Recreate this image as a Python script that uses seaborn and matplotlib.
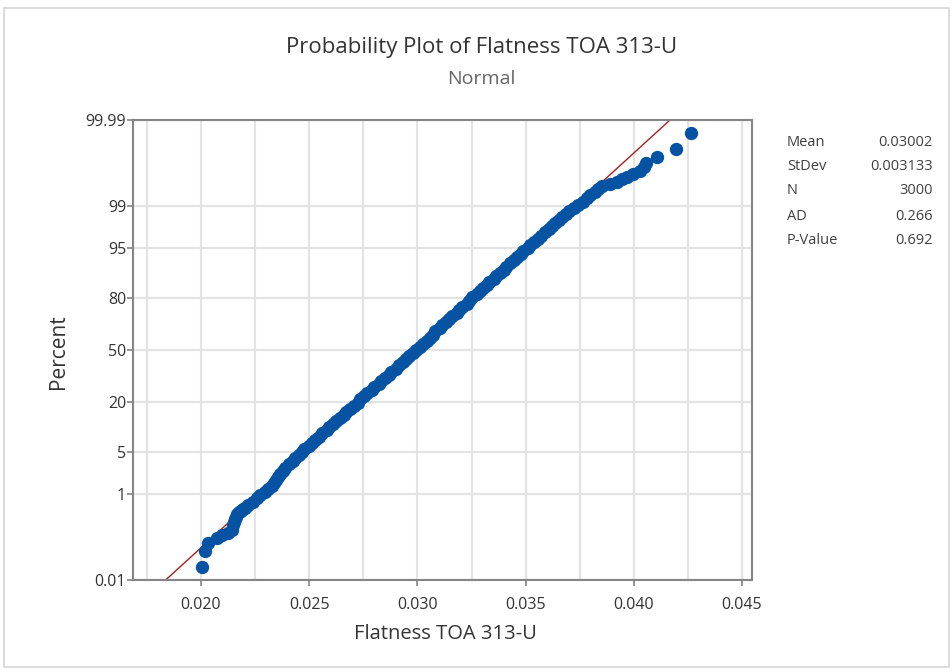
import math
import numpy as np
import pandas as pd
import matplotlib
matplotlib.use("Agg")
import matplotlib.pyplot as plt
import matplotlib.ticker as mticker
from matplotlib.patches import Rectangle
import seaborn as sns

# summary statistics shown in the side box
mean_val = 0.03002
stdev_val = 0.003133
n_obs = 3000
ad_val = 0.266
p_val = 0.692

# plotted points (percent, flatness)
percent = [0.023, 0.057, 0.090, 0.12, 0.137, 0.152, 0.178, 0.23, 0.267, 0.31,
           0.342, 0.394, 0.433, 0.454, 0.50,
           0.54, 0.62, 0.71, 0.82, 0.94, 1.07, 1.22, 1.39, 1.58, 1.79,
           2.02, 2.28, 2.56, 2.87, 3.22, 3.59, 4.01, 4.46, 4.95, 5.48,
           6.06, 6.68, 7.35, 8.08, 8.85, 9.68, 10.56, 11.51, 12.51, 13.57,
           14.69, 15.87, 17.11, 18.41, 19.77, 21.19, 22.66, 24.20, 25.78, 27.43,
           29.12, 30.85, 32.64, 34.46, 36.32, 38.21, 40.13, 42.07, 44.04, 46.02,
           48.01, 50.00, 51.99, 53.98, 55.96, 57.93, 59.87, 61.79, 63.68, 65.54,
           67.36, 69.15, 70.88, 72.57, 74.22, 75.80, 77.34, 78.81, 80.23, 81.59,
           82.89, 84.13, 85.31, 86.43, 87.49, 88.49, 89.44, 90.32, 91.15, 91.92,
           92.65, 93.32, 93.94, 94.52, 95.05, 95.54, 95.99, 96.41, 96.78, 97.13,
           97.44, 97.72, 97.98, 98.21, 98.42, 98.61, 98.78, 98.93, 99.06, 99.18,
           99.29, 99.38, 99.46, 99.53, 99.60,
           99.643, 99.677, 99.71, 99.743, 99.777, 99.81, 99.843, 99.877, 99.91,
           99.943, 99.977]
flatness = [0.02005, 0.02018, 0.02032, 0.02074, 0.02097, 0.02125, 0.02143, 0.02148, 0.02152, 0.02157,
            0.02162, 0.02166, 0.02175, 0.02185, 0.02194,
            0.02203, 0.02219, 0.02239, 0.02259, 0.02275, 0.02295, 0.02311, 0.02327, 0.02337, 0.02349,
            0.02355, 0.02366, 0.02377, 0.02389, 0.02408, 0.02424, 0.02436, 0.02455, 0.02467, 0.02478,
            0.02498, 0.02514, 0.02525, 0.02545, 0.02561, 0.02581, 0.02592, 0.02612, 0.02624, 0.02643,
            0.02659, 0.02671, 0.02690, 0.02706, 0.02727, 0.02737, 0.02753, 0.02769, 0.02789, 0.02800,
            0.02821, 0.02831, 0.02852, 0.02868, 0.02878, 0.02899, 0.02915, 0.02934, 0.02946, 0.02962,
            0.02981, 0.02993, 0.03013, 0.03024, 0.03044, 0.03056, 0.03071, 0.03082, 0.03103, 0.03113,
            0.03134, 0.03145, 0.03160, 0.03181, 0.03192, 0.03207, 0.03228, 0.03239, 0.03254, 0.03275,
            0.03291, 0.03301, 0.03322, 0.03333, 0.03353, 0.03364, 0.03380, 0.03400, 0.03411, 0.03427,
            0.03447, 0.03458, 0.03479, 0.03489, 0.03510, 0.03521, 0.03541, 0.03557, 0.03573, 0.03588,
            0.03608, 0.03620, 0.03635, 0.03655, 0.03667, 0.03686, 0.03702, 0.03723, 0.03743, 0.03763,
            0.03784, 0.03799, 0.03819, 0.03835, 0.03855,
            0.03888, 0.03921, 0.03944, 0.03967, 0.03995, 0.04027, 0.04045, 0.04055, 0.04105,
            0.04193, 0.04262]

percent_ticks = [0.01, 1, 5, 20, 50, 80, 95, 99, 99.99]
percent_labels = ["0.01", "1", "5", "20", "50", "80", "95", "99", "99.99"]
x_ticks = [0.020, 0.025, 0.030, 0.035, 0.040, 0.045]
x_labels = ["0.020", "0.025", "0.030", "0.035", "0.040", "0.045"]


# normal probability scale (Acklam's approximation for the inverse cdf)
def _ppf(p):
    a = [-3.969683028665376e+01, 2.209460984245205e+02, -2.759285104469687e+02,
         1.383577518672690e+02, -3.066479806614716e+01, 2.506628277459239e+00]
    b = [-5.447609879822406e+01, 1.615858368580409e+02, -1.556989798598866e+02,
         6.680131188771972e+01, -1.328068155288572e+01]
    c = [-7.784894002430293e-03, -3.223964580411365e-01, -2.400758277161838e+00,
         -2.549732539343734e+00, 4.374664141464968e+00, 2.938163982698783e+00]
    d = [7.784695709041462e-03, 3.224671290700398e-01, 2.445134137142996e+00,
         3.754408661907416e+00]
    if not np.isfinite(p):
        return np.nan
    p = min(max(p, 1e-12), 1 - 1e-12)
    plow = 0.02425
    if p < plow:
        q = math.sqrt(-2 * math.log(p))
        return (((((c[0]*q+c[1])*q+c[2])*q+c[3])*q+c[4])*q+c[5]) / ((((d[0]*q+d[1])*q+d[2])*q+d[3])*q+1)
    if p > 1 - plow:
        q = math.sqrt(-2 * math.log(1 - p))
        return -(((((c[0]*q+c[1])*q+c[2])*q+c[3])*q+c[4])*q+c[5]) / ((((d[0]*q+d[1])*q+d[2])*q+d[3])*q+1)
    q = p - 0.5
    r = q * q
    return (((((a[0]*r+a[1])*r+a[2])*r+a[3])*r+a[4])*r+a[5])*q / (((((b[0]*r+b[1])*r+b[2])*r+b[3])*r+b[4])*r+1)


_ppf_v = np.vectorize(_ppf, otypes=[float])
_erf_v = np.vectorize(math.erf, otypes=[float])


def to_z(y):
    return _ppf_v(np.asarray(y, dtype=float) / 100.0)


def from_z(z):
    return 50.0 * (1.0 + _erf_v(np.asarray(z, dtype=float) / math.sqrt(2)))


df = pd.DataFrame({"Flatness": flatness, "Percent": percent})

# fitted normal line, from the mean / stdev in the box
fit_pct = [0.01, 99.99]
fit_x = [mean_val + stdev_val * float(to_z(p)) for p in fit_pct]
fit_df = pd.DataFrame({"Flatness": fit_x, "Percent": fit_pct})

sns.set_style("white")
plt.rcParams["font.family"] = ["Open Sans", "DejaVu Sans"]

fig = plt.figure(figsize=(9.53, 6.71), dpi=100)
ax = fig.add_axes([133 / 953, 1 - 580 / 671, (752 - 133) / 953, (580 - 120) / 671])
ax.set_yscale("function", functions=(to_z, from_z))

sns.lineplot(data=fit_df, x="Flatness", y="Percent", ax=ax, color="#a3211f",
             lw=1.0, sort=False, estimator=None, zorder=2)
sns.scatterplot(data=df, x="Flatness", y="Percent", ax=ax, color="#0653a4",
                s=92, linewidth=0, alpha=1, zorder=3)

ax.set_xlim(0.01686, 0.04546)
ax.set_ylim(0.01, 99.99)
ax.yaxis.set_major_locator(mticker.FixedLocator(percent_ticks))
ax.yaxis.set_major_formatter(mticker.FixedFormatter(percent_labels))
ax.yaxis.set_minor_locator(mticker.NullLocator())
ax.xaxis.set_major_locator(mticker.FixedLocator(x_ticks))
ax.xaxis.set_major_formatter(mticker.FixedFormatter(x_labels))
ax.xaxis.set_minor_locator(mticker.MultipleLocator(0.0025))

ax.grid(True, which="both", color="#e3e3e3", lw=1.5, zorder=0)
ax.set_axisbelow(True)
for sp in ax.spines.values():
    sp.set_color("#858585")
    sp.set_linewidth(1.5)
ax.tick_params(axis="both", which="major", direction="out", length=4, width=1.2,
               color="#858585", labelsize=11.5, labelcolor="#333333", left=True, bottom=True)
ax.tick_params(axis="x", which="major", pad=8)
ax.tick_params(axis="y", which="major", pad=1)
ax.tick_params(axis="x", which="minor", length=0)
ax.set_xlabel("")
ax.set_ylabel("")

# titles and axis labels
fig.text(0.505, 1 - 47 / 671, "Probability Plot of Flatness TOA 313-U", ha="center", va="center",
         fontsize=16, color="#333333")
fig.text(0.505, 1 - 79 / 671, "Normal", ha="center", va="center", fontsize=14, color="#666666")
fig.text(445 / 953, 1 - 634 / 671, "Flatness TOA 313-U", ha="center", va="center",
         fontsize=14.5, color="#333333")
fig.text(58 / 953, 1 - 352 / 671, "Percent", ha="center", va="center", rotation=90,
         fontsize=15, color="#333333")

# stats box
stat_names = ["Mean", "StDev", "N", "AD", "P-Value"]
stat_values = [f"{mean_val:.5f}", f"{stdev_val:.6f}", f"{n_obs}", f"{ad_val:.3f}", f"{p_val:.3f}"]
stat_rows = [142, 166, 191, 216, 240]
for name, val, row in zip(stat_names, stat_values, stat_rows):
    fig.text(787 / 953, 1 - row / 671, name, ha="left", va="center", fontsize=10.5, color="#404040")
    fig.text(933 / 953, 1 - row / 671, val, ha="right", va="center", fontsize=10.5, color="#404040")

# light outer frame of the graph window
fig.patches.append(Rectangle((4 / 953, 4 / 671), 945 / 953, 659 / 671, transform=fig.transFigure,
                             fill=False, edgecolor="#d6d6d6", lw=1.2))

fig.savefig("out.png", dpi=100)
